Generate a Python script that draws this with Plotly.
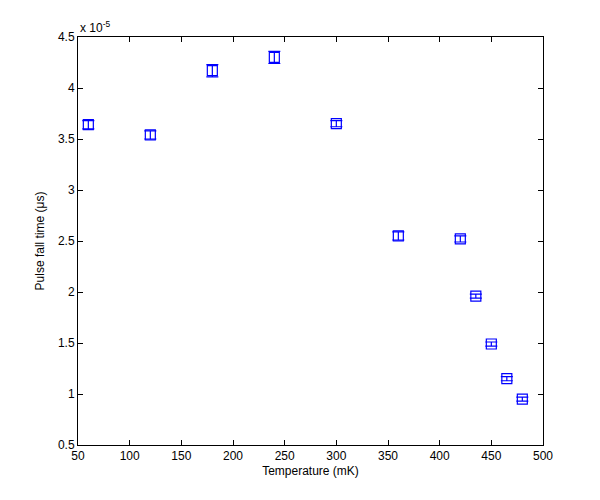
import plotly.graph_objects as go

temperature = [60, 120, 180, 240, 300, 360, 420, 435, 450, 465, 480]
fall_time = [3.64, 3.54, 4.17, 4.30, 3.65, 2.55, 2.52, 1.96, 1.49, 1.15, 0.95]  # x 1e-5
fall_err = [0.04, 0.04, 0.06, 0.06, 0.03, 0.04, 0.03, 0.02, 0.02, 0.02, 0.02]
x_ticks = [50, 100, 150, 200, 250, 300, 350, 400, 450, 500]
y_ticks = [0.5, 1, 1.5, 2, 2.5, 3, 3.5, 4, 4.5]

font = dict(family="Liberation Sans, Arial, sans-serif", size=12, color="black")

fig = go.Figure()
fig.add_trace(go.Scatter(
    x=temperature, y=fall_time,
    mode="markers",
    marker=dict(symbol="square-open", size=10, color="blue", line=dict(width=1.2, color="blue")),
    error_y=dict(type="data", array=fall_err, visible=True, color="blue", thickness=1.2, width=6),
    showlegend=False,
))

axis_common = dict(
    showline=True, linecolor="black", linewidth=1, mirror="ticks",
    ticks="inside", ticklen=5, tickcolor="black", tickwidth=1,
    showgrid=False, zeroline=False, tickfont=font,
)
fig.update_xaxes(range=[50, 500], tickvals=x_ticks, ticktext=[str(v) for v in x_ticks],
                 title=dict(text="Temperature (mK)", font=font, standoff=4), **axis_common)
fig.update_yaxes(range=[0.5, 4.5], tickvals=y_ticks, ticktext=[f"{v:g}" for v in y_ticks],
                 title=dict(text="Pulse fall time (μs)", font=font, standoff=10), **axis_common)

fig.add_annotation(x=0, y=1, xref="paper", yref="paper", xanchor="left", yanchor="bottom",
                   text="x 10<sup>-5</sup>", showarrow=False, font=font, yshift=0)

fig.update_layout(
    width=600, height=500,
    margin=dict(l=70, r=65, t=29, b=63),
    plot_bgcolor="white", paper_bgcolor="white",
    font=font,
)
fig.write_html("out.html")
